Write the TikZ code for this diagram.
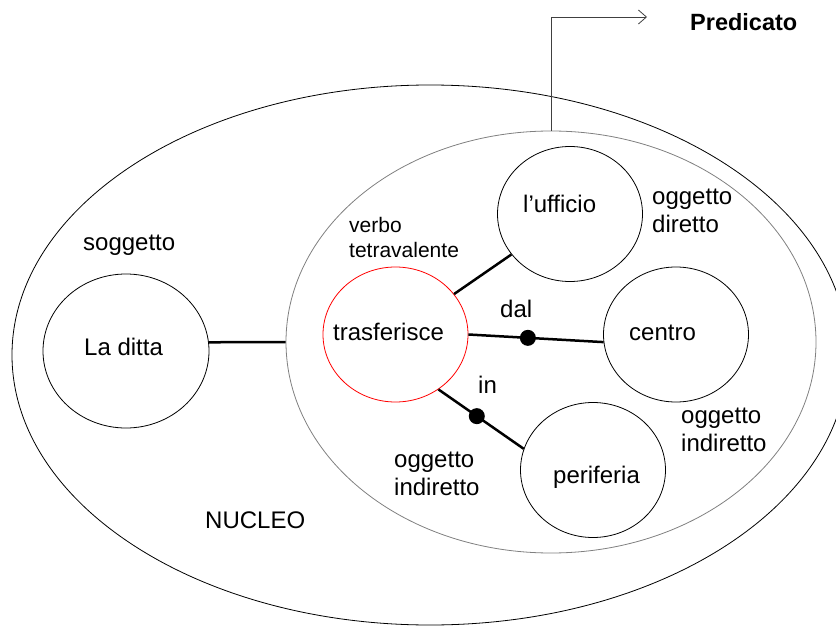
\documentclass[tikz,border=0pt]{standalone}
\usepackage{fontspec}
\setmainfont{Liberation Sans}
\usetikzlibrary{shapes.geometric,arrows.meta}

\tikzset{
	blob/.style={draw, ellipse, line width=0.8pt, inner sep=0pt, minimum width=145pt, minimum height=135pt},
	word/.style={anchor=base west, inner sep=0pt, font=\fontsize{24}{28}\selectfont, align=left},
	note/.style={word, font=\fontsize{21}{25}\selectfont},
	link/.style={line width=2.5pt},
	knot/.style={circle, fill, inner sep=0pt, minimum size=16pt},
}

\begin{document}
\begin{tikzpicture}[x=1pt,y=-1pt]
		\useasboundingbox (0,0) rectangle (836,626);
		\clip (0,0) rectangle (836,626);

		\node [blob, minimum width=836pt, minimum height=540pt] (frase) at (430,355) {};
		\node [blob, draw=gray, minimum width=530pt, minimum height=422pt] (nucleo) at (551,342) {};
		\node [blob, minimum width=166pt, minimum height=154pt] (ditta) at (126,351) {};
		\node [blob, draw=red] (trasf) at (395.5,334.5) {};
		\node [blob] (uff) at (570,214) {};
		\node [blob] (centro) at (676,334.5) {};
		\node [blob] (perif) at (593,470) {};

		\node [word] (t-ditta) at (84,355) {La ditta};
		\node [word] (t-trasf) at (333,340) {trasferisce};
		\node [word] (t-uff) at (523,212) {l’ufficio};
		\node [word] (t-centro) at (629,340) {centro};
		\node [word] (t-perif) at (553,483) {periferia};

		\node [word] (sogg) at (83,250) {soggetto};
		\node [note] (verbo) at (349,257) {verbo\\tetravalente};
		\node [word] (od) at (652,232) {oggetto\\diretto};
		\node [word] (oi-dx) at (681,451) {oggetto\\indiretto};
		\node [word] (oi-sx) at (394,495) {oggetto\\indiretto};
		\node [word] (dal) at (500,317) {dal};
		\node [word] (in) at (478,393) {in};
		\node [word] (t-nucleo) at (205,528) {NUCLEO};
		\node [word, font=\fontsize{23.5}{28}\selectfont\bfseries] (pred) at (690,31) {Predicato};

		\coordinate (freccia) at (647,17);

		\draw [link] (ditta.6) -- (nucleo.west);
		\draw [link] (trasf) -- (uff);
		\draw [link] (trasf.east) -- node [knot, pos=0.44] (k-dal) {} (centro.186);
		\draw [link] (trasf.-52) -- node [knot, pos=0.45] (k-in) {} (perif.163);
		\draw [line width=0.8pt, black!75, -{Straight Barb[length=8pt,width=14pt]}] (nucleo.north) |- (freccia);
	\end{tikzpicture}
\end{document}
